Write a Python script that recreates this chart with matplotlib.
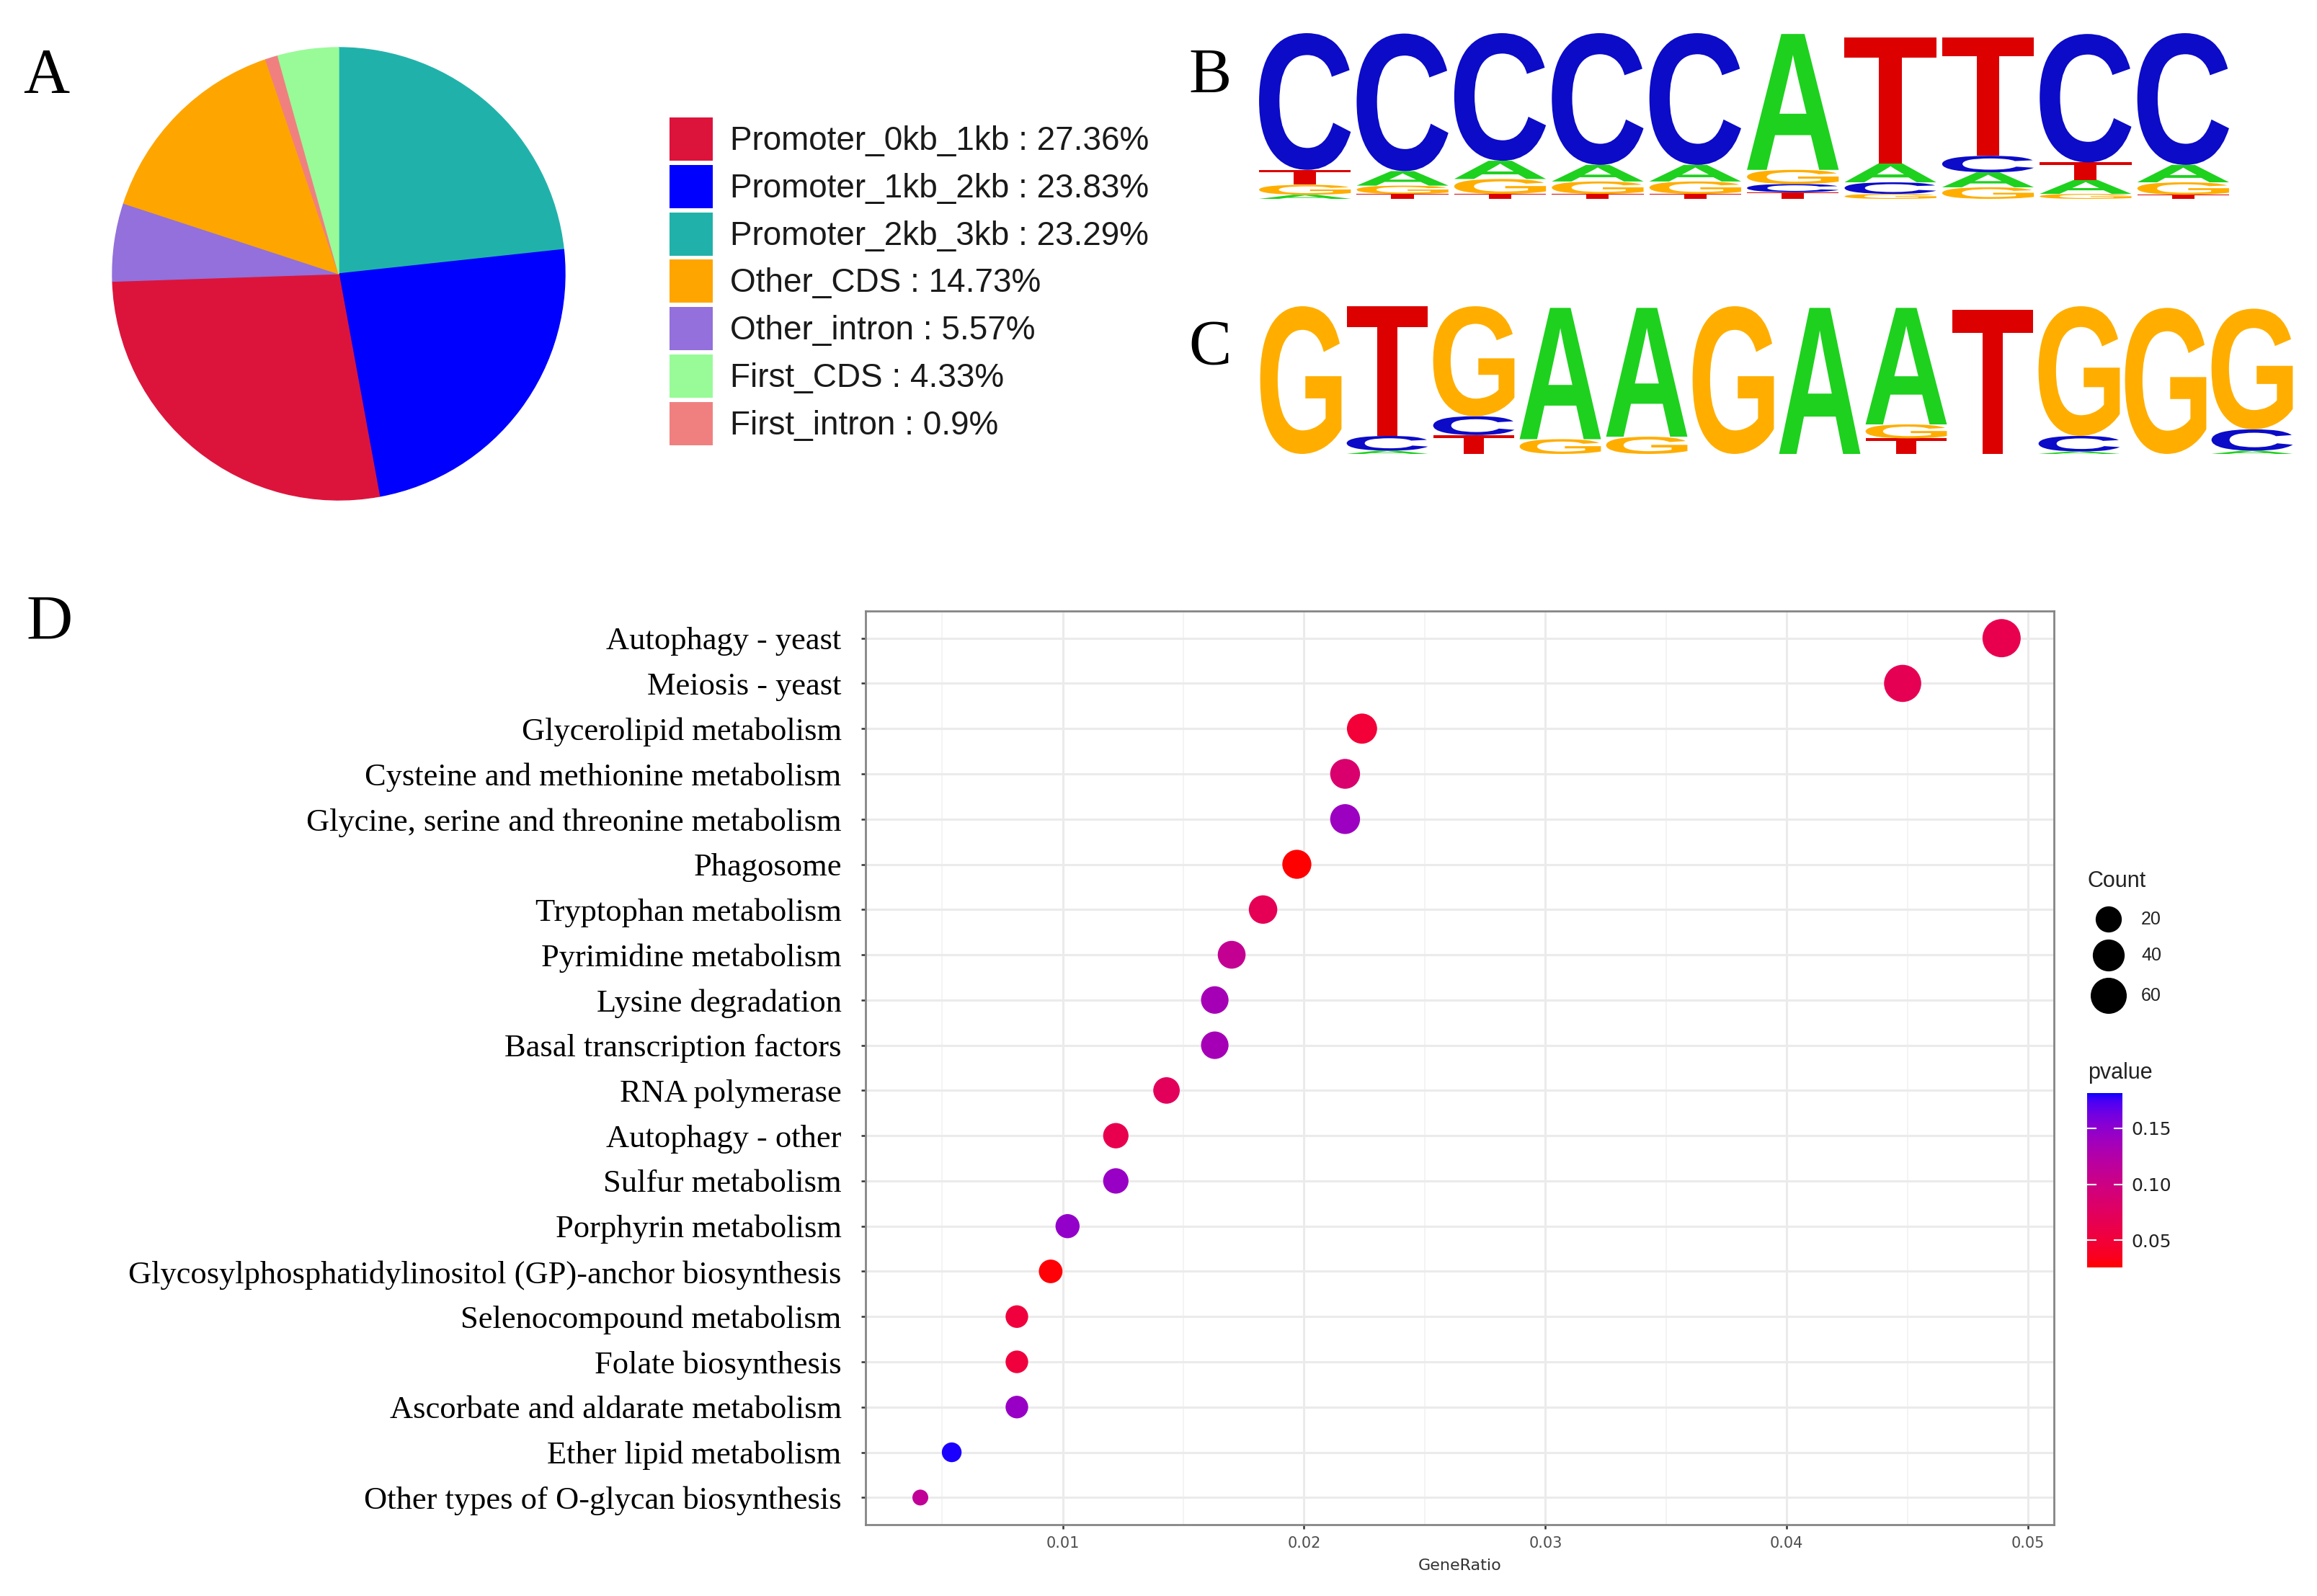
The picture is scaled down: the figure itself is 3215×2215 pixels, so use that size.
import numpy as np
import matplotlib
matplotlib.use('Agg')
import matplotlib.pyplot as plt
from matplotlib.colors import ListedColormap, Normalize
from matplotlib.patches import PathPatch, Rectangle
from matplotlib.textpath import TextPath
from matplotlib.font_manager import FontProperties
from matplotlib.transforms import Affine2D

W, H = 3215, 2215
DPI = 100

# ---- panel A: peak distribution ----
pie_labels = ['Promoter_0kb_1kb', 'Promoter_1kb_2kb', 'Promoter_2kb_3kb', 'Other_CDS',
              'Other_intron', 'First_CDS', 'First_intron']
pie_values = [27.36, 23.83, 23.29, 14.73, 5.57, 4.33, 0.9]
pie_colors = ['#DC143C', '#0000FF', '#20B2AA', '#FFA500', '#9370DB', '#98FB98', '#F08080']
# slice order going clockwise from 12 o'clock
pie_order = [2, 1, 0, 4, 3, 6, 5]

# ---- panels B / C: motif logos, each stack bottom -> top (letter, bits) ----
logo_b = [
    [('A', 0.05), ('G', 0.12), ('T', 0.18), ('C', 1.65)],
    [('T', 0.06), ('G', 0.10), ('A', 0.175), ('C', 1.66)],
    [('T', 0.06), ('G', 0.18), ('A', 0.22), ('C', 1.54)],
    [('T', 0.06), ('G', 0.15), ('A', 0.20), ('C', 1.59)],
    [('T', 0.06), ('G', 0.15), ('A', 0.20), ('C', 1.59)],
    [('T', 0.08), ('C', 0.10), ('G', 0.17), ('A', 1.64)],
    [('G', 0.06), ('C', 0.14), ('A', 0.23), ('T', 1.52)],
    [('G', 0.14), ('A', 0.18), ('C', 0.20), ('T', 1.43)],
    [('G', 0.06), ('A', 0.17), ('T', 0.21), ('C', 1.55)],
    [('T', 0.05), ('G', 0.15), ('A', 0.21), ('C', 1.59)],
]
logo_c = [
    [('G', 1.80)],
    [('A', 0.04), ('C', 0.18), ('T', 1.58)],
    [('T', 0.23), ('C', 0.23), ('G', 1.34)],
    [('G', 0.18), ('A', 1.60)],
    [('G', 0.21), ('A', 1.57)],
    [('G', 1.80)],
    [('A', 1.78)],
    [('T', 0.19), ('G', 0.17), ('A', 1.42)],
    [('T', 1.76)],
    [('A', 0.03), ('C', 0.19), ('G', 1.58)],
    [('G', 1.78)],
    [('A', 0.04), ('C', 0.26), ('G', 1.47)],
]
base_colors = {'A': '#1ED11E', 'C': '#0B0BC8', 'G': '#FFAE00', 'T': '#DC0000'}

# ---- panel D: KEGG enrichment ----
terms = ['Autophagy - yeast', 'Meiosis - yeast', 'Glycerolipid metabolism',
         'Cysteine and methionine metabolism', 'Glycine, serine and threonine metabolism',
         'Phagosome', 'Tryptophan metabolism', 'Pyrimidine metabolism', 'Lysine degradation',
         'Basal transcription factors', 'RNA polymerase', 'Autophagy - other',
         'Sulfur metabolism', 'Porphyrin metabolism',
         'Glycosylphosphatidylinositol (GP)-anchor biosynthesis', 'Selenocompound metabolism',
         'Folate biosynthesis', 'Ascorbate and aldarate metabolism', 'Ether lipid metabolism',
         'Other types of O-glycan biosynthesis']
gene_ratio = [0.0489, 0.0448, 0.0224, 0.0217, 0.0217, 0.0197, 0.0183, 0.0170, 0.0163, 0.0163,
              0.0143, 0.0122, 0.0122, 0.0102, 0.0095, 0.0081, 0.0081, 0.0081, 0.0054, 0.0041]
counts = [72, 66, 33, 32, 32, 29, 27, 25, 24, 24, 21, 18, 18, 15, 14, 12, 12, 12, 8, 6]
pvalues = [0.064, 0.068, 0.049, 0.085, 0.141, 0.026, 0.069, 0.110, 0.135, 0.135,
           0.072, 0.064, 0.144, 0.147, 0.027, 0.052, 0.052, 0.144, 0.180, 0.113]
count_breaks = [20, 40, 60]
p_breaks = [0.05, 0.10, 0.15]
p_limits = (0.0255, 0.1816)


def fr(x0, y0, x1, y1):
    # pixel box (top-left origin) -> figure fraction
    return [x0 / W, 1 - y1 / H, (x1 - x0) / W, (y1 - y0) / H]


def lab_gradient(n=256):
    # red -> blue interpolated in CIE Lab, like ggplot's continuous colour scale
    t = np.linspace(0, 1, n)
    L = 53.2408 + (32.2970 - 53.2408) * t
    a = 80.0925 + (79.1875 - 80.0925) * t
    b = 67.2032 + (-107.8602 - 67.2032) * t
    fy = (L + 16) / 116
    fx = fy + a / 500
    fz = fy - b / 200
    finv = lambda v: np.where(v > 6 / 29, v ** 3, 3 * (6 / 29) ** 2 * (v - 4 / 29))
    xyz = np.vstack([0.95047 * finv(fx), finv(fy), 1.08883 * finv(fz)])
    M = np.array([[3.2406, -1.5372, -0.4986], [-0.9689, 1.8758, 0.0415], [0.0557, -0.2040, 1.0570]])
    rgb = M @ xyz
    rgb = np.where(rgb <= 0.0031308, 12.92 * rgb, 1.055 * np.abs(rgb) ** (1 / 2.4) - 0.055)
    return ListedColormap(np.clip(rgb.T, 0, 1))


def dot_size(c):
    c = np.asarray(c, dtype=float)
    d_px = 22 + 31 * np.sqrt((c - min(counts)) / (max(counts) - min(counts)))
    return (d_px * 72 / DPI) ** 2


letter_font = FontProperties(family='Liberation Sans', weight='bold')


def draw_logo(ax, stacks):
    for i, stack in enumerate(stacks):
        y0 = 0
        for letter, h in stack:
            tp = TextPath((0, 0), letter, size=1, prop=letter_font)
            ext = tp.get_extents()
            w = 0.94
            tr = (Affine2D().translate(-ext.x0, -ext.y0)
                  .scale(w / ext.width, h / ext.height).translate(i + 0.03, y0))
            ax.add_patch(PathPatch(tr.transform_path(tp), fc=base_colors[letter], ec='none'))
            y0 += h
    ax.set_xlim(0, len(stacks))
    ax.axis('off')


fig = plt.figure(figsize=(W / DPI, H / DPI), dpi=DPI)

# pie
ax_pie = fig.add_axes(fr(156, 66, 784, 694))
wedges, _ = ax_pie.pie([pie_values[i] for i in pie_order], colors=[pie_colors[i] for i in pie_order],
                       startangle=90, counterclock=False, radius=1)
for wdg in wedges:
    wdg.set_edgecolor(wdg.get_facecolor())
    wdg.set_linewidth(1)
ax_pie.set_xlim(-1, 1)
ax_pie.set_ylim(-1, 1)

# logos
ax_b = fig.add_axes(fr(1743, 46, 3097, 276))
draw_logo(ax_b, logo_b)
ax_b.set_ylim(0, 2.0)
ax_c = fig.add_axes(fr(1745, 425, 3185, 630))
draw_logo(ax_c, logo_c)
ax_c.set_ylim(0, 1.8)

# dot plot
cmap = lab_gradient()
norm = Normalize(*p_limits)
ax = fig.add_axes(fr(1201, 848, 2850, 2116))
yy = np.arange(len(terms))
sc = ax.scatter(gene_ratio, yy, s=dot_size(counts), c=pvalues, cmap=cmap, norm=norm,
                edgecolors='none', zorder=3)
ax.set_xlim(0.00183, 0.05107)
ax.set_ylim(len(terms) - 0.4, -0.6)
ax.set_xticks([0.01, 0.02, 0.03, 0.04, 0.05])
ax.set_xticklabels(['0.01', '0.02', '0.03', '0.04', '0.05'])
ax.set_xticks([0.005, 0.015, 0.025, 0.035, 0.045], minor=True)
ax.set_yticks(yy)
ax.set_yticklabels(terms, fontfamily='Liberation Serif', fontsize=32)
ax.grid(which='major', color='#EBEBEB', lw=2.2)
ax.grid(which='minor', axis='x', color='#F2F2F2', lw=1.2)
ax.set_axisbelow(True)
for sp in ax.spines.values():
    sp.set_color('#858585')
    sp.set_linewidth(2)
ax.tick_params(axis='x', labelsize=15, labelcolor='#4D4D4D', length=4.5, width=1.8,
               color='#333333', pad=7)
ax.tick_params(axis='y', labelcolor='black', length=4, width=1.8, color='#333333', pad=20)
ax.tick_params(which='minor', length=0)
ax.set_xlabel('GeneRatio', fontsize=16, color='#333333', labelpad=8)

# colour bar
cax = fig.add_axes(fr(2896, 1517, 2945, 1759))
cb = fig.colorbar(sc, cax=cax)
cb.set_ticks(p_breaks)
cb.set_ticklabels(['%.2f' % p for p in p_breaks])
cb.minorticks_off()
cb.outline.set_visible(False)
cax.tick_params(direction='in', length=9, width=1.5, colors='white', labelcolor='#222222',
                labelsize=18, left=True, right=True, pad=9)

# overlay in pixel units for letters, legends
ov = fig.add_axes([0, 0, 1, 1])
ov.set_xlim(0, W)
ov.set_ylim(H, 0)
ov.axis('off')

for lab, (x, y) in zip('ABCD', [(32, 128), (1649, 128), (1649, 505), (36, 887)]):
    ov.text(x, y, lab, fontsize=64, family='Liberation Serif', ha='left', va='baseline')

for i, (lab, val, col) in enumerate(zip(pie_labels, pie_values, pie_colors)):
    yc = 193 + i * 65.8
    ov.add_patch(Rectangle((929, yc - 30), 60, 60, fc=col, ec='none'))
    ov.text(1013, yc + 15, f'{lab} : {val}%', fontsize=33, family='Liberation Sans',
            color='#1a1a1a', ha='left', va='baseline')

ov.text(2897, 1223, 'Count', fontsize=22, family='Liberation Sans', color='#222222', va='center')
for c, yc in zip(count_breaks, [1276, 1326, 1382]):
    ov.scatter([2926], [yc], s=dot_size(c), c='black', edgecolors='none')
    ov.text(2971, yc, str(c), fontsize=18, family='Liberation Sans', color='#222222', va='center')
ov.text(2897, 1489, 'pvalue', fontsize=22, family='Liberation Sans', color='#222222', va='center')

fig.savefig('out.png', dpi=DPI)
